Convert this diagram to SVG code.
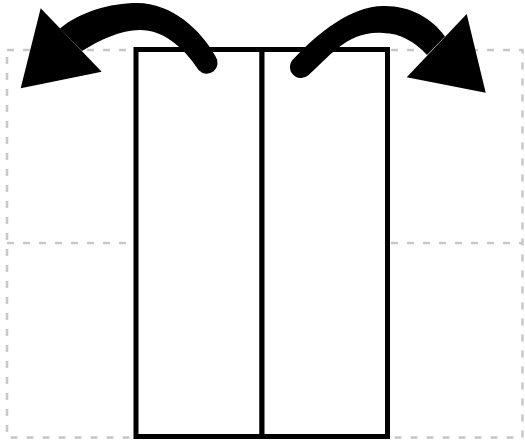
<svg xmlns="http://www.w3.org/2000/svg" width="525" height="443" viewBox="0 0 525 443">
<style>
.guide{fill:none;stroke:#c8c8c8;stroke-width:2.5;stroke-dasharray:7 9}
.panel{fill:#fff;stroke:#000;stroke-width:5}
.arrow{fill:#000;stroke:none}
</style>
<g id="guides">
<rect class="guide" x="7" y="50" width="515.5" height="387.5"/>
<line class="guide" x1="7" y1="243" x2="522.5" y2="243"/>
</g>
<g id="left-panel"><rect class="panel" x="136" y="49.5" width="126" height="387"/></g>
<g id="right-panel"><rect class="panel" x="262" y="49.5" width="125.5" height="387"/></g>
<g id="connectors">
<path class="arrow" d="M60,28.4 C80,12 110,3 137,3 C172,3 201,30 215.6,56.5 A10.9 10.9 0 0 1 198.8,70.3 C182,45 162,30 140,30 C120,30 100,40 82,51 Z"/>
<polygon class="arrow" points="40.7,8.3 20.7,88.3 101.7,71.7"/>
<path class="arrow" d="M445,36.5 C432,18 410,6 385,6 C352,5 318,33 293.7,58.7 A11.05 11.05 0 0 0 308.3,75.3 C328,58 348,30 383,33 C400,33 415,42 427,55 Z"/>
<polygon class="arrow" points="466.7,14 485.7,92.7 406.7,77.3"/>
</g>
</svg>
